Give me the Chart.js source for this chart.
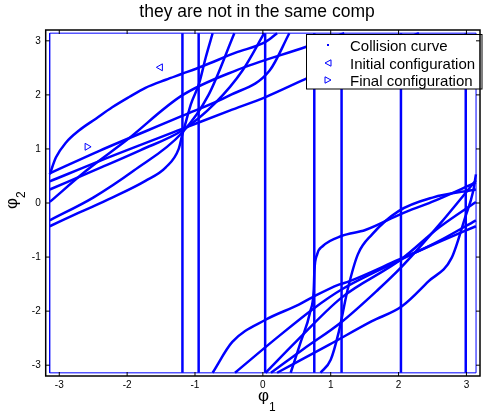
<!DOCTYPE html>
<html>
<head>
<meta charset="utf-8">
<script src="https://cdn.jsdelivr.net/npm/chart.js"></script>
<style>
  html, body { margin: 0; padding: 0; background: #fff; }
  canvas { display: block; }
</style>
</head>
<body>
<canvas id="chart" width="485" height="418"></canvas>
<script>
// tick values and labels (same on both axes)
const tickValues = [-3, -2, -1, 0, 1, 2, 3];
const tickLabels = ['-3', '-2', '-1', '0', '1', '2', '3'];

// collision curve: vertical branches (phi1 constant)
const verticalX = [-1.185, -0.946, 0.034, 0.758, 1.16, 2.035, 2.99];

// collision curve: branches in the upper left
const arcX = [-3.14, -3.05, -2.90, -2.71, -2.46, -2.22, -1.97, -1.73, -1.43, -1.19, -0.89, -0.40, 0.04, 0.21];
const arcY = [0.53, 0.84, 1.12, 1.34, 1.56, 1.77, 1.96, 2.13, 2.28, 2.39, 2.53, 2.78, 2.98, 3.14];
const sCurveX = [-3.14, -2.71, -2.22, -1.73, -1.43, -1.24, -1.19, -1.13, -1.06, -0.94, -0.84, -0.74];
const sCurveY = [-0.43, -0.18, 0.10, 0.41, 0.66, 1.00, 1.25, 1.52, 1.83, 2.21, 2.70, 3.14];
const upperDX = [-3.14, -2.40, -1.19, -0.49, 0.04, 0.64, 1.40, 2.30];
const upperDY = [0.40, 0.78, 1.37, 1.71, 1.96, 2.30, 2.70, 3.14];
const upperEX = [-3.14, -2.60, -2.02, -1.19, -0.40, 0.64, 1.20];
const upperEY = [0.02, 0.60, 1.15, 1.99, 2.45, 2.89, 3.14];
const upperFX = [-3.14, -2.40, -1.19, -0.49, 0.10, 0.39];
const upperFY = [0.55, 0.97, 1.61, 1.99, 2.45, 3.14];
const upperGX = [-3.14, -2.40, -1.80, -1.19, -0.70, -0.30, 0.02];
const upperGY = [0.25, 0.65, 0.98, 1.34, 1.85, 2.45, 3.14];
const upperHX = [-3.14, -2.50, -1.90, -1.19, -0.80, -0.42];
const upperHY = [-0.32, 0.10, 0.60, 1.30, 2.00, 3.14];

// collision curve: branches in the lower right
const lowSX = [-0.74, -0.45, 0.04, 0.53, 0.75, 1.12, 1.27, 2.00, 2.60, 3.14];
const lowSY = [-3.14, -2.57, -2.16, -1.88, -1.73, -1.51, -1.45, -1.05, -0.72, -0.43];
const lowAX = [0.21, 0.98, 1.60, 2.05, 2.44, 2.78, 2.98, 3.10, 3.14];
const lowAY = [-3.14, -2.62, -2.19, -1.91, -1.45, -1.02, -0.27, 0.22, 0.53];
const hookX = [0.41, 0.55, 0.70, 0.75, 0.76, 0.80, 0.88, 1.16, 1.51, 2.04, 2.49, 3.14];
const hookY = [-3.14, -2.60, -2.00, -1.60, -1.25, -0.95, -0.80, -0.61, -0.50, -0.20, 0.02, 0.38];
const low2X = [-0.41, 0.20, 0.75, 1.16, 2.03, 2.60, 3.14];
const low2Y = [-3.14, -2.50, -1.95, -1.60, -1.05, -0.70, -0.32];
const low3X = [0.04, 0.50, 1.16, 2.03, 2.60, 3.14];
const low3Y = [-3.14, -2.55, -1.75, -1.05, -0.45, 0.02];
const low4X = [0.12, 0.60, 1.16, 1.70, 2.03, 2.60, 3.14];
const low4Y = [-3.14, -2.70, -2.20, -1.60, -1.20, -0.40, 0.42];
const low5X = [0.85, 1.00, 1.12, 1.25, 1.40, 1.61, 2.00, 2.50, 3.14];
const low5Y = [-3.14, -2.90, -2.38, -1.60, -0.95, -0.58, -0.15, 0.10, 0.25];

// boundary of the configuration space
const boxX = [-Math.PI, Math.PI, Math.PI, -Math.PI, -Math.PI];
const boxY = [-Math.PI, -Math.PI, Math.PI, Math.PI, -Math.PI];

// start and goal
const initialPoint = [-1.51, 2.51];
const finalPoint = [-2.59, 1.04];

const BLUE = 'rgb(0,0,255)';
const FONT = "'Liberation Sans', Arial, Helvetica, sans-serif";

function zip(xs, ys) {
    return xs.map((x, i) => ({ x: x, y: ys[i] }));
}

function curve(xs, ys, width, smooth) {
    return {
        data: zip(xs, ys),
        showLine: true,
        borderColor: BLUE,
        borderWidth: width || 2.5,
        pointRadius: 0,
        cubicInterpolationMode: smooth ? 'monotone' : 'default',
        tension: 0
    };
}

const datasets = [];
datasets.push(curve(boxX, boxY, 1, false));
verticalX.forEach(x => datasets.push(curve([x, x], [-Math.PI, Math.PI], 2.5, false)));
[
    [arcX, arcY], [sCurveX, sCurveY], [upperDX, upperDY], [upperEX, upperEY],
    [upperFX, upperFY], [upperGX, upperGY], [upperHX, upperHY],
    [lowSX, lowSY], [lowAX, lowAY], [hookX, hookY], [low2X, low2Y],
    [low3X, low3Y], [low4X, low4Y], [low5X, low5Y]
].forEach(c => datasets.push(curve(c[0], c[1], 2.5, true)));

datasets.push({
    data: [{ x: initialPoint[0], y: initialPoint[1] }],
    pointStyle: 'triangle', rotation: -90, pointRadius: 4,
    borderColor: BLUE, backgroundColor: 'rgba(0,0,0,0)', borderWidth: 1
});
datasets.push({
    data: [{ x: finalPoint[0], y: finalPoint[1] }],
    pointStyle: 'triangle', rotation: 90, pointRadius: 4,
    borderColor: BLUE, backgroundColor: 'rgba(0,0,0,0)', borderWidth: 1
});

// small triangle used in the legend
function triangle(ctx, cx, cy, dir) {
    ctx.beginPath();
    ctx.moveTo(cx + 3 * dir, cy - 3.2);
    ctx.lineTo(cx + 3 * dir, cy + 3.2);
    ctx.lineTo(cx - 3 * dir, cy);
    ctx.closePath();
    ctx.stroke();
}

// box, inward ticks, legend and labels in the MATLAB style
const decorations = {
    id: 'decorations',
    afterDatasetsDraw(chart) {
        const ctx = chart.ctx;
        const a = chart.chartArea;
        const xs = chart.scales.x, ys = chart.scales.y;
        ctx.save();

        // legend
        ctx.fillStyle = '#fff';
        ctx.fillRect(306.5, 34.5, 175.5, 54.5);
        ctx.strokeStyle = '#000';
        ctx.lineWidth = 1;
        ctx.strokeRect(306.5, 34.5, 175.5, 54.5);
        ctx.fillStyle = BLUE;
        ctx.fillRect(327, 44, 2, 2);
        ctx.strokeStyle = BLUE;
        triangle(ctx, 328, 63, 1);
        triangle(ctx, 328, 80, -1);
        ctx.fillStyle = '#000';
        ctx.font = '15px ' + FONT;
        ctx.textAlign = 'left';
        ctx.textBaseline = 'alphabetic';
        ctx.fillText('Collision curve', 350, 51);
        ctx.fillText('Initial configuration', 350, 68.5);
        ctx.fillText('Final configuration', 350, 85.5);

        // axes box and ticks
        ctx.strokeStyle = '#000';
        ctx.lineWidth = 1.5;
        ctx.strokeRect(a.left, a.top, a.right - a.left, a.bottom - a.top);
        ctx.lineWidth = 1;
        ctx.beginPath();
        tickValues.forEach(v => {
            const px = xs.getPixelForValue(v);
            ctx.moveTo(px, a.bottom); ctx.lineTo(px, a.bottom - 4);
            ctx.moveTo(px, a.top); ctx.lineTo(px, a.top + 4);
            const py = ys.getPixelForValue(v);
            ctx.moveTo(a.left, py); ctx.lineTo(a.left + 4, py);
            ctx.moveTo(a.right, py); ctx.lineTo(a.right - 4, py);
        });
        ctx.stroke();
        ctx.restore();
    },
    afterDraw(chart) {
        const ctx = chart.ctx;
        ctx.save();
        ctx.fillStyle = '#000';
        ctx.textBaseline = 'alphabetic';

        // title
        ctx.textAlign = 'center';
        ctx.font = '17.5px ' + FONT;
        ctx.fillText('they are not in the same comp', 257, 17);

        // x label
        ctx.textAlign = 'left';
        ctx.font = '17px ' + FONT;
        ctx.fillText('\u03c6', 258, 400.5);
        ctx.font = '12px ' + FONT;
        ctx.fillText('1', 269, 411);

        // y label
        ctx.translate(17, 203);
        ctx.rotate(-Math.PI / 2);
        ctx.font = '17px ' + FONT;
        ctx.fillText('\u03c6', -6, 0);
        ctx.font = '12px ' + FONT;
        ctx.fillText('2', 5, 8);
        ctx.restore();
    }
};

function fixedTicks(scale) {
    scale.ticks = tickValues.map(v => ({ value: v }));
}

function tickText(value) {
    const i = tickValues.indexOf(value);
    return i >= 0 ? tickLabels[i] : '';
}

new Chart(document.getElementById('chart'), {
    type: 'scatter',
    data: { datasets: datasets },
    options: {
        responsive: false,
        animation: false,
        devicePixelRatio: 1,
        layout: { padding: { top: 30, right: 2.7, left: 0, bottom: 0 } },
        plugins: { legend: { display: false }, tooltip: { enabled: false } },
        scales: {
            x: {
                type: 'linear', min: -3.2, max: 3.2,
                afterBuildTicks: fixedTicks,
                afterFit(scale) { scale.height = 42; },
                grid: { display: false, drawTicks: false },
                border: { display: false },
                ticks: { font: { size: 10, family: FONT }, color: '#000', padding: 3, maxRotation: 0, callback: tickText }
            },
            y: {
                type: 'linear', min: -3.2, max: 3.2,
                afterBuildTicks: fixedTicks,
                afterFit(scale) { scale.width = 45.7; },
                grid: { display: false, drawTicks: false },
                border: { display: false },
                ticks: { font: { size: 10, family: FONT }, color: '#000', padding: 5, callback: tickText }
            }
        }
    },
    plugins: [decorations]
});
</script>
</body>
</html>
